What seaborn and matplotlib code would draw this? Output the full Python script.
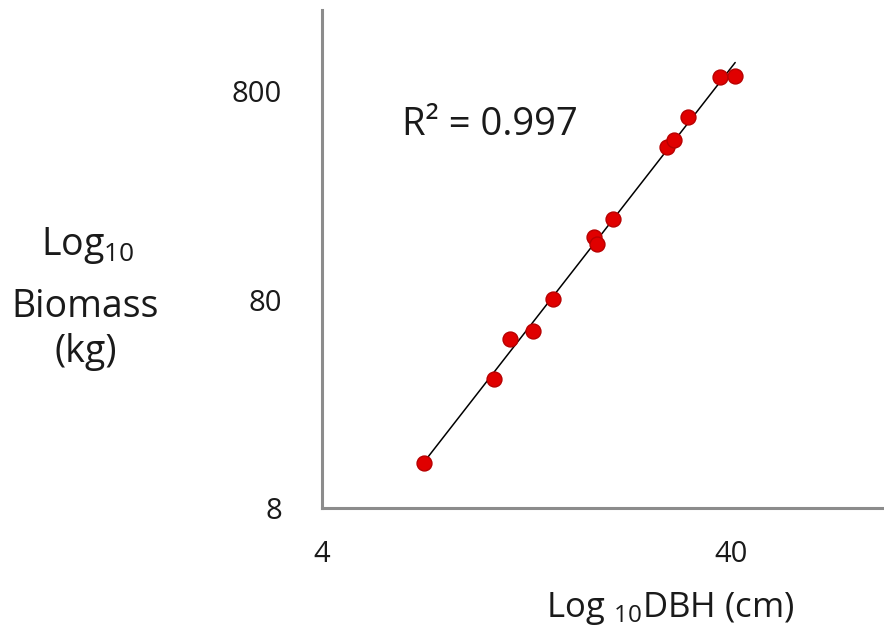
import numpy as np
import pandas as pd
import matplotlib
matplotlib.use("Agg")
import matplotlib.pyplot as plt
import seaborn as sns
from matplotlib.ticker import NullLocator

dbh_cm = [7.1, 10.5, 11.5, 13.1, 14.7, 18.5, 18.8, 20.6, 27.9, 29.0, 31.3, 37.6, 40.9]
biomass_kg = [13.2, 33.3, 51.6, 56.8, 80.8, 159.5, 147.7, 195, 431, 465, 601, 932, 946]
x_ticks = [4, 40]
y_ticks = [8, 80, 800]
r2_label = "R² = 0.997"

sns.set_style("white")
plt.rcParams['font.family'] = ['Open Sans', 'DejaVu Sans']
plt.rcParams['mathtext.fontset'] = 'custom'
plt.rcParams['mathtext.rm'] = 'Open Sans'
plt.rcParams['mathtext.it'] = 'Open Sans'
plt.rcParams['mathtext.bf'] = 'Open Sans'

df = pd.DataFrame({'dbh': dbh_cm, 'biomass': biomass_kg})

# power-law fit in log space
slope, intercept = np.polyfit(np.log10(df['dbh']), np.log10(df['biomass']), 1)
fit_x = np.array([df['dbh'].min(), df['dbh'].max()])
fit = pd.DataFrame({'dbh': fit_x, 'biomass': 10 ** (intercept + slope * np.log10(fit_x))})

fig = plt.figure(figsize=(8.84, 6.37), dpi=100)
ax = fig.add_axes([0.3643, 0.2020, 0.6357, 0.7823])

sns.lineplot(data=fit, x='dbh', y='biomass', ax=ax, color='black', linewidth=1.1)
sns.scatterplot(data=df, x='dbh', y='biomass', ax=ax, color='#e00000',
                edgecolor='#b80000', linewidth=1.0, s=115, zorder=3)

ax.set_xscale('log')
ax.set_yscale('log')
ax.set_xlim(4, 94.5)
ax.set_ylim(8, 1950)
ax.set_xticks(x_ticks)
ax.set_xticklabels([str(t) for t in x_ticks])
ax.set_yticks(y_ticks)
ax.set_yticklabels([str(t) for t in y_ticks])
ax.xaxis.set_minor_locator(NullLocator())
ax.yaxis.set_minor_locator(NullLocator())

gray = '#8c8c8c'
for side in ['top', 'right']:
    ax.spines[side].set_visible(False)
for side in ['left', 'bottom']:
    ax.spines[side].set_color(gray)
    ax.spines[side].set_linewidth(2.2)
ax.tick_params(axis='both', direction='out', length=8, width=1.8, color=gray,
               labelsize=21, labelcolor='#1a1a1a')
ax.tick_params(axis='y', pad=21)
ax.tick_params(axis='x', pad=15)
ax.set_xlabel('')
ax.set_ylabel('')

ax.text(0.142, 0.749, r2_label, transform=ax.transAxes, fontsize=27.5, color='#1a1a1a')

fig.text(670 / 884, 1 - 617 / 637, r'Log $_{10}$DBH (cm)', fontsize=25,
         ha='center', va='baseline', color='#1a1a1a')
fig.text(88 / 884, 1 - 255 / 637, r'Log$_{10}$', fontsize=27, ha='center', va='baseline', color='#1a1a1a')
fig.text(85 / 884, 1 - 317 / 637, 'Biomass', fontsize=27, ha='center', va='baseline', color='#1a1a1a')
fig.text(86 / 884, 1 - 362 / 637, '(kg)', fontsize=27, ha='center', va='baseline', color='#1a1a1a')

fig.savefig('out.png', dpi=100)
